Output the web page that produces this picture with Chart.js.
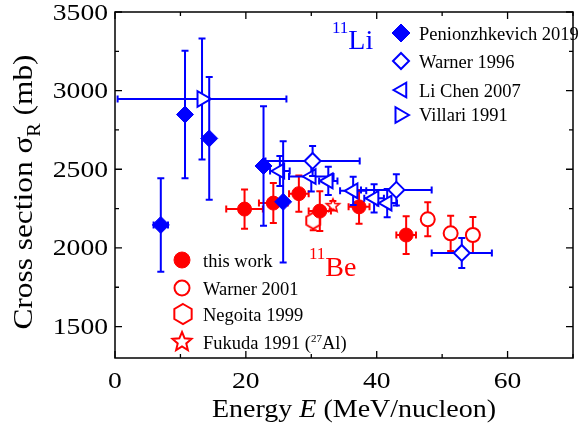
<!DOCTYPE html>
<html><head><meta charset="utf-8">
<script src="https://cdn.jsdelivr.net/npm/chart.js@4.4.0/dist/chart.umd.min.js"></script>
<style>html,body{margin:0;padding:0;background:#fff;overflow:hidden}</style>
</head><body>
<canvas id="c" width="584" height="435" style="display:block;width:584px;height:435px"></canvas>
<script>
// ---------- data (energy in MeV/nucleon, cross section in mb) ----------
const xTickValues = [0, 20, 40, 60];
const yTickValues = [1500, 2000, 2500, 3000, 3500];

const penionE    = [7.0, 10.7, 14.4, 22.7, 25.7];
const penionS    = [2146, 2848, 2696, 2521, 2293];
const penionErrE = [1.1, 0, 0, 0, 0];
const penionErrS = [297, 405, 390, 380, 385];

const warner96E    = [30.2, 43.0, 53.0];
const warner96S    = [2553, 2369, 1968];
const warner96ErrE = [7.2, 5.4, 4.6];
const warner96ErrS = [95, 100, 95];

const liChenE    = [25.2, 30.0, 32.6, 36.4, 39.6, 41.6];
const liChenS    = [2489, 2454, 2426, 2363, 2315, 2285];
const liChenErrE = [1.5, 3.4, 1.4, 2.0, 1.5, 1.5];
const liChenErrS = [95, 95, 90, 90, 90, 90];

const villariE    = [13.3];
const villariS    = [2947];
const villariErrE = [12.9];
const villariErrS = [385];

const thisWorkE    = [19.8, 24.2, 28.1, 31.3, 37.3, 44.5];
const thisWorkS    = [2247, 2285, 2345, 2234, 2261, 2082];
const thisWorkErrE = [2.8, 2.2, 1.5, 1.7, 1.6, 1.5];
const thisWorkErrS = [125, 127, 115, 127, 108, 120];

const warner01E    = [47.8, 51.3, 54.7];
const warner01S    = [2182, 2093, 2082];
const warner01ErrE = [0, 0, 0];
const warner01ErrS = [108, 112, 115];

const negoitaE    = [30.3];
const negoitaS    = [2173];
const negoitaErrE = [0];
const negoitaErrS = [60];

const fukudaE    = [33.3];
const fukudaS    = [2268];
const fukudaErrE = [0];
const fukudaErrS = [30];

// ---------- styling ----------
const BLUE = '#0000ff', RED = '#ff0000';
const SERIF = "'Liberation Serif','Times New Roman',serif";

function pts(E, S) { return E.map((e, i) => ({ x: e, y: S[i] })); }

function makeShapeCanvas(kind, r, color, lw) {
  const c = document.createElement('canvas');
  const s = Math.ceil(2 * r + 2 * lw + 2);
  c.width = s; c.height = s;
  const g = c.getContext('2d');
  shapePath(g, kind, s / 2, s / 2, r);
  g.fillStyle = '#fff'; g.fill();
  g.lineWidth = lw; g.strokeStyle = color; g.lineJoin = 'miter'; g.stroke();
  return c;
}
function shapePath(g, kind, x, y, r) {
  g.beginPath();
  if (kind === 'hex') {
    for (let i = 0; i < 6; i++) {
      const a = -Math.PI / 2 + i * Math.PI / 3;
      const px = x + r * Math.cos(a), py = y + r * Math.sin(a);
      i ? g.lineTo(px, py) : g.moveTo(px, py);
    }
  } else if (kind === 'star') {
    for (let i = 0; i < 10; i++) {
      const a = -Math.PI / 2 + i * Math.PI / 5;
      const rr = i % 2 ? r * 0.45 : r;
      const px = x + rr * Math.cos(a), py = y + rr * Math.sin(a);
      i ? g.lineTo(px, py) : g.moveTo(px, py);
    }
  } else if (kind === 'diamond') {
    g.moveTo(x, y - r); g.lineTo(x + r, y); g.lineTo(x, y + r); g.lineTo(x - r, y);
  } else if (kind === 'circle') {
    g.arc(x, y, r, 0, Math.PI * 2);
  } else if (kind === 'triL' || kind === 'triR') {
    const d = kind === 'triL' ? -1 : 1;
    g.moveTo(x + d * r, y);
    g.lineTo(x - d * r / 2, y - r * 0.866);
    g.lineTo(x - d * r / 2, y + r * 0.866);
  }
  g.closePath();
}

const hexImg = makeShapeCanvas('hex', 8, RED, 2);
const starImg = makeShapeCanvas('star', 7, RED, 1.6);

const errors = [
  [penionErrE, penionErrS],
  [warner96ErrE, warner96ErrS],
  [liChenErrE, liChenErrS],
  [villariErrE, villariErrS],
  [thisWorkErrE, thisWorkErrS],
  [warner01ErrE, warner01ErrS],
  [negoitaErrE, negoitaErrS],
  [fukudaErrE, fukudaErrS]
];

const datasets = [
  { label: 'Penionzhkevich 2019', data: pts(penionE, penionS), pointStyle: 'rectRot', pointRadius: 8.5,
    backgroundColor: BLUE, borderColor: BLUE, borderWidth: 1, ecolor: BLUE },
  { label: 'Warner 1996', data: pts(warner96E, warner96S), pointStyle: 'rectRot', pointRadius: 8,
    backgroundColor: '#fff', borderColor: BLUE, borderWidth: 2, ecolor: BLUE },
  { label: 'Li Chen 2007', data: pts(liChenE, liChenS), pointStyle: 'triangle', pointRotation: -90, pointRadius: 8.5,
    backgroundColor: '#fff', borderColor: BLUE, borderWidth: 2, ecolor: BLUE },
  { label: 'Villari 1991', data: pts(villariE, villariS), pointStyle: 'triangle', pointRotation: 90, pointRadius: 9,
    backgroundColor: '#fff', borderColor: BLUE, borderWidth: 2, ecolor: BLUE },
  { label: 'this work', data: pts(thisWorkE, thisWorkS), pointStyle: 'circle', pointRadius: 7,
    backgroundColor: RED, borderColor: RED, borderWidth: 1, ecolor: RED },
  { label: 'Warner 2001', data: pts(warner01E, warner01S), pointStyle: 'circle', pointRadius: 7,
    backgroundColor: '#fff', borderColor: RED, borderWidth: 2, ecolor: RED },
  { label: 'Negoita 1999', data: pts(negoitaE, negoitaS), pointStyle: hexImg, pointRadius: 8,
    backgroundColor: '#fff', borderColor: RED, borderWidth: 2, ecolor: RED },
  { label: 'Fukuda 1991', data: pts(fukudaE, fukudaS), pointStyle: starImg, pointRadius: 7,
    backgroundColor: '#fff', borderColor: RED, borderWidth: 2, ecolor: RED }
];

// error bars drawn just before each dataset's markers
const errorBarPlugin = {
  id: 'errbars',
  beforeDatasetDraw(chart, args) {
    const i = args.index, ds = chart.data.datasets[i];
    const [eE, eS] = errors[i];
    const xs = chart.scales.x, ys = chart.scales.y, ctx = chart.ctx;
    const cap = 3.5;
    ctx.save();
    ctx.strokeStyle = ds.ecolor; ctx.lineWidth = 2; ctx.lineCap = 'butt';
    ds.data.forEach((p, k) => {
      const px = xs.getPixelForValue(p.x), py = ys.getPixelForValue(p.y);
      if (eS[k] > 0) {
        const y1 = ys.getPixelForValue(p.y + eS[k]), y2 = ys.getPixelForValue(p.y - eS[k]);
        ctx.beginPath();
        ctx.moveTo(px, y1); ctx.lineTo(px, y2);
        ctx.moveTo(px - cap, y1); ctx.lineTo(px + cap, y1);
        ctx.moveTo(px - cap, y2); ctx.lineTo(px + cap, y2);
        ctx.stroke();
      }
      if (eE[k] > 0) {
        const x1 = xs.getPixelForValue(Math.max(p.x - eE[k], xs.min)), x2 = xs.getPixelForValue(p.x + eE[k]);
        ctx.beginPath();
        ctx.moveTo(x1, py); ctx.lineTo(x2, py);
        if (p.x - eE[k] > xs.min) { ctx.moveTo(x1, py - cap); ctx.lineTo(x1, py + cap); }
        ctx.moveTo(x2, py - cap); ctx.lineTo(x2, py + cap);
        ctx.stroke();
      }
    });
    ctx.restore();
  }
};

function drawRich(ctx, segs, x, y, align, sx, rot) {
  let w = 0;
  segs.forEach(s => { ctx.font = s.f; s.w = ctx.measureText(s.t).width; w += s.w; });
  ctx.save();
  ctx.translate(x, y);
  if (rot) ctx.rotate(rot);
  ctx.scale(sx, 1);
  let cx = align === 'center' ? -w / 2 : align === 'right' ? -w : 0;
  ctx.textBaseline = 'alphabetic'; ctx.textAlign = 'left';
  segs.forEach(s => { ctx.font = s.f; ctx.fillStyle = s.c || '#000'; ctx.fillText(s.t, cx, s.dy || 0); cx += s.w; });
  ctx.restore();
}

function legendMarker(ctx, kind, x, y, r, fill, stroke, lw) {
  ctx.save();
  shapePath(ctx, kind, x, y, r);
  ctx.fillStyle = fill; ctx.fill();
  ctx.lineWidth = lw; ctx.strokeStyle = stroke; ctx.stroke();
  ctx.restore();
}

const framePlugin = {
  id: 'frame',
  afterDraw(chart) {
    const ctx = chart.ctx, a = chart.chartArea, xs = chart.scales.x, ys = chart.scales.y;
    ctx.save();
    ctx.strokeStyle = '#000'; ctx.lineWidth = 1.5;
    ctx.strokeRect(a.left, a.top, a.right - a.left, a.bottom - a.top);
    ctx.lineWidth = 1.3;
    ctx.beginPath();
    for (let v = xs.min; v <= xs.max + 1e-6; v += 10) {
      const px = xs.getPixelForValue(v), L = (v % 20 === 0) ? 7 : 4;
      ctx.moveTo(px, a.bottom); ctx.lineTo(px, a.bottom - L);
      ctx.moveTo(px, a.top); ctx.lineTo(px, a.top + L);
    }
    for (let v = 1500; v <= ys.max + 1e-6; v += 250) {
      const py = ys.getPixelForValue(v), L = (v % 500 === 0) ? 7 : 4;
      ctx.moveTo(a.left, py); ctx.lineTo(a.left + L, py);
      ctx.moveTo(a.right, py); ctx.lineTo(a.right - L, py);
    }
    ctx.stroke();
    ctx.restore();

    // tick labels
    const tickFont = '23px ' + SERIF;
    xTickValues.forEach(v => drawRich(ctx, [{ t: String(v), f: tickFont }], xs.getPixelForValue(v), 388, 'center', 1.2));
    yTickValues.forEach(v => drawRich(ctx, [{ t: String(v), f: tickFont }], 108, ys.getPixelForValue(v) + 7.5, 'right', 1.2));

    // axis titles
    const tf = '25px ' + SERIF;
    drawRich(ctx, [{ t: 'Energy ', f: tf }, { t: 'E', f: 'italic ' + tf }, { t: ' (MeV/nucleon)', f: tf }],
      354, 417, 'center', 1.12);
    drawRich(ctx, [{ t: 'Cross section \u03c3', f: '28px ' + SERIF }, { t: 'R', f: '18px ' + SERIF, dy: 8 },
      { t: ' (mb)', f: '28px ' + SERIF }], 32, 192, 'center', 1.12, -Math.PI / 2);

    // isotope labels
    drawRich(ctx, [{ t: '11', f: '17px ' + SERIF, c: BLUE, dy: -16 }, { t: 'Li', f: '28px ' + SERIF, c: BLUE }], 332, 49, 'left', 1);
    drawRich(ctx, [{ t: '11', f: '17px ' + SERIF, c: RED, dy: -17 }, { t: 'Be', f: '28px ' + SERIF, c: RED }], 309, 276, 'left', 1);

    // legends
    const lf = '18.5px ' + SERIF;
    legendMarker(ctx, 'diamond', 401, 33, 9, BLUE, BLUE, 1);
    legendMarker(ctx, 'diamond', 401, 61, 8, '#fff', BLUE, 2);
    legendMarker(ctx, 'triL', 402, 90, 8.5, '#fff', BLUE, 2);
    legendMarker(ctx, 'triR', 400, 115, 9, '#fff', BLUE, 2);
    drawRich(ctx, [{ t: 'Penionzhkevich 2019', f: lf }], 419, 39.5, 'left', 1);
    drawRich(ctx, [{ t: 'Warner 1996', f: lf }], 419, 68, 'left', 1);
    drawRich(ctx, [{ t: 'Li Chen 2007', f: lf }], 419, 96.5, 'left', 1);
    drawRich(ctx, [{ t: 'Villari 1991', f: lf }], 419, 121, 'left', 1);

    legendMarker(ctx, 'circle', 182, 260, 8, RED, RED, 1);
    legendMarker(ctx, 'circle', 182, 288, 7.5, '#fff', RED, 2);
    legendMarker(ctx, 'hex', 183, 314, 10, '#fff', RED, 2);
    legendMarker(ctx, 'star', 182, 342, 10, '#fff', RED, 2);
    drawRich(ctx, [{ t: 'this work', f: lf }], 203, 267, 'left', 1);
    drawRich(ctx, [{ t: 'Warner 2001', f: lf }], 203, 294.5, 'left', 1);
    drawRich(ctx, [{ t: 'Negoita 1999', f: lf }], 203, 321, 'left', 1);
    drawRich(ctx, [{ t: 'Fukuda 1991 (', f: lf }, { t: '27', f: '11px ' + SERIF, dy: -7 }, { t: 'Al)', f: lf }], 203, 348.5, 'left', 1);
  }
};

new Chart(document.getElementById('c'), {
  type: 'scatter',
  data: { datasets },
  options: {
    responsive: false, devicePixelRatio: 1, animation: false, events: [],
    layout: { padding: { top: 12, left: 0, right: 1, bottom: 0 } },
    plugins: { legend: { display: false }, tooltip: { enabled: false } },
    scales: {
      x: { type: 'linear', min: 0, max: 70, grid: { display: false }, border: { display: false },
           ticks: { display: false }, afterFit: s => { s.height = 77; } },
      y: { type: 'linear', min: 1300, max: 3500, grid: { display: false }, border: { display: false },
           ticks: { display: false }, afterFit: s => { s.width = 115; } }
    }
  },
  plugins: [errorBarPlugin, framePlugin]
});
</script>
</body></html>
